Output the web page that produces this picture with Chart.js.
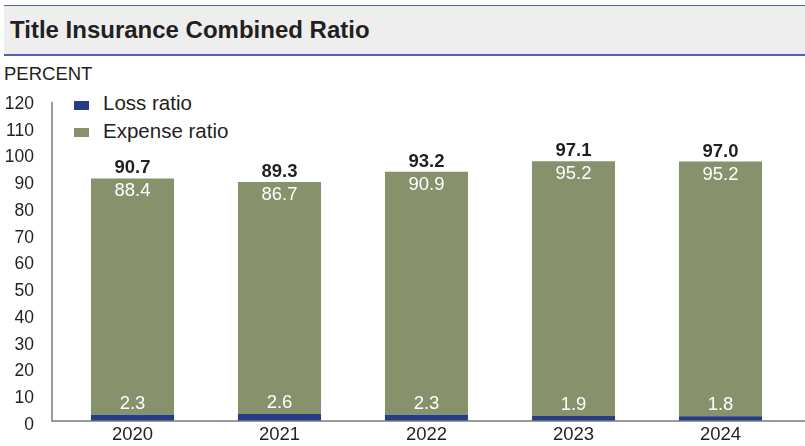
<!DOCTYPE html>
<html>
<head>
<meta charset="utf-8">
<script src="https://cdn.jsdelivr.net/npm/chart.js@4"></script>
<style>
  html, body { margin:0; padding:0; background:#ffffff; }
  body { width:805px; height:446px; position:relative; overflow:hidden; font-family:"Liberation Sans", Arial, sans-serif; color:#231f20; }
  #titlebar { position:absolute; left:4px; top:5px; width:801px; height:48px; background:#eeeeee; border-top:1.5px solid #4a65a8; border-bottom:2.5px solid #4a65a8; box-sizing:content-box; }
  #titlebar span { position:absolute; left:6px; top:10px; font-weight:bold; font-size:24px; line-height:28px; }
  #unit { position:absolute; left:4px; top:64px; font-size:18.5px; line-height:20px; }
  .leg { position:absolute; left:74px; font-size:20.5px; line-height:24px; }
  .leg i { position:absolute; left:0; width:15px; height:8.5px; }
  .leg span { position:absolute; left:29px; white-space:nowrap; }
  canvas { position:absolute; left:0; top:0; }
</style>
</head>
<body>
<div id="titlebar"><span>Title Insurance Combined Ratio</span></div>
<div id="unit">PERCENT</div>
<div class="leg" style="top:91px;"><i style="top:10px;background:#253c87;"></i><span>Loss ratio</span></div>
<div class="leg" style="top:119px;"><i style="top:9px;background:#87916b;"></i><span>Expense ratio</span></div>
<canvas id="c" width="805" height="446"></canvas>
<script>
const categories = ["2020", "2021", "2022", "2023", "2024"];
const lossRatio = [2.3, 2.6, 2.3, 1.9, 1.8];
const expenseRatio = [88.4, 86.7, 90.9, 95.2, 95.2];
const combinedRatio = [90.7, 89.3, 93.2, 97.1, 97.0];
const yTicks = [0, 10, 20, 30, 40, 50, 60, 70, 80, 90, 100, 110, 120];

const FONT = '"Liberation Sans", Arial, sans-serif';

const labelPlugin = {
  id: 'labels',
  afterDatasetsDraw(chart) {
    const ctx = chart.ctx;
    const m0 = chart.getDatasetMeta(0);
    const m1 = chart.getDatasetMeta(1);
    ctx.save();
    ctx.textAlign = 'center';
    ctx.textBaseline = 'alphabetic';
    categories.forEach((c, i) => {
      const lb = m0.data[i], eb = m1.data[i];
      ctx.font = '18.5px ' + FONT;
      ctx.fillStyle = '#ffffff';
      ctx.fillText(lossRatio[i].toFixed(1), lb.x, lb.y - 6);
      ctx.fillText(expenseRatio[i].toFixed(1), eb.x, eb.y + 18);
      ctx.font = 'bold 18.5px ' + FONT;
      ctx.fillStyle = '#231f20';
      ctx.fillText(combinedRatio[i].toFixed(1), eb.x, eb.y - 5);
    });
    // axis lines
    const a = chart.chartArea;
    ctx.strokeStyle = '#7a7a7a';
    ctx.lineWidth = 1.5;
    ctx.beginPath();
    ctx.moveTo(52, a.top + 2);
    ctx.lineTo(52, a.bottom);
    ctx.lineTo(805, a.bottom);
    ctx.stroke();
    ctx.restore();
  }
};

new Chart(document.getElementById('c'), {
  type: 'bar',
  data: {
    labels: categories,
    datasets: [
      { label: 'Loss ratio', data: lossRatio, backgroundColor: '#253c87', stack: 's' },
      { label: 'Expense ratio', data: expenseRatio, backgroundColor: '#87916b', stack: 's' }
    ]
  },
  options: {
    responsive: false,
    animation: false,
    layout: { padding: { top: 100, left: 0, right: 11, bottom: 0 } },
    plugins: { legend: { display: false }, tooltip: { enabled: false }, title: { display: false } },
    datasets: { bar: { barPercentage: 0.565, categoryPercentage: 1.0 } },
    scales: {
      x: {
        stacked: true,
        grid: { display: false, drawTicks: false },
        border: { display: false },
        ticks: { color: '#231f20', font: { family: FONT, size: 18.5 }, padding: 3, maxRotation: 0 },
        afterFit(s) { s.height = 25; s.paddingLeft = 0; s.paddingRight = 0; }
      },
      y: {
        stacked: true,
        min: 0, max: 120,
        grid: { display: false, drawTicks: false },
        border: { display: false },
        afterBuildTicks(s) { s.ticks = yTicks.map(v => ({ value: v })); },
        ticks: { color: '#231f20', font: { family: FONT, size: 17.5 }, padding: 25, labelOffset: 4 },
        afterFit(s) { s.width = 59; s.paddingTop = 0; s.paddingBottom = 0; }
      }
    }
  },
  plugins: [labelPlugin]
});
</script>
</body>
</html>
